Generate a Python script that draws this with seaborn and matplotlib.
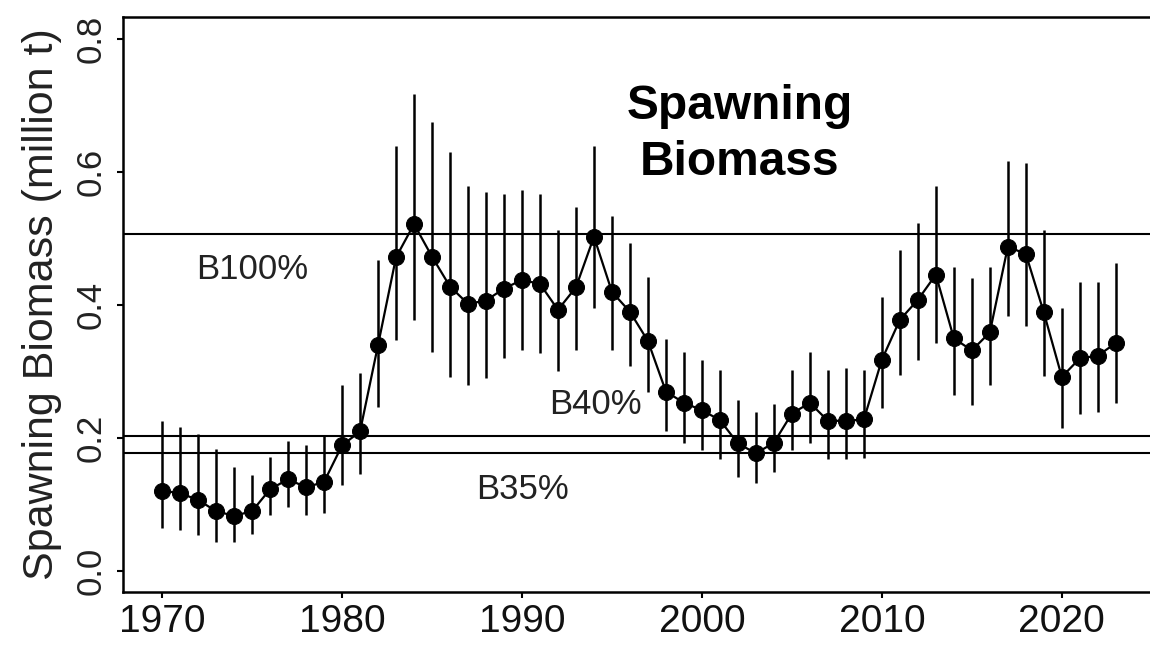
import matplotlib
matplotlib.use("Agg")
import numpy as np
import matplotlib.pyplot as plt
import seaborn as sns

# spawning biomass estimates (million t) with interval bounds
years = list(range(1970, 2024))
biomass = [
    0.121, 0.117, 0.107, 0.090, 0.083, 0.090, 0.123, 0.138, 0.126, 0.134,
    0.189, 0.210, 0.340, 0.472, 0.522, 0.473, 0.428, 0.402, 0.407, 0.425,
    0.438, 0.432, 0.393, 0.427, 0.503, 0.420, 0.390, 0.346, 0.270, 0.253,
    0.242, 0.227, 0.192, 0.177, 0.193, 0.237, 0.253, 0.226, 0.226, 0.228,
    0.318, 0.378, 0.408, 0.446, 0.350, 0.332, 0.359, 0.488, 0.477, 0.389,
    0.292, 0.320, 0.324, 0.343,
]
upper = [
    0.225, 0.217, 0.206, 0.184, 0.156, 0.144, 0.171, 0.195, 0.190, 0.203,
    0.280, 0.298, 0.468, 0.640, 0.718, 0.676, 0.631, 0.579, 0.571, 0.568,
    0.574, 0.567, 0.513, 0.548, 0.639, 0.534, 0.494, 0.442, 0.349, 0.330,
    0.318, 0.303, 0.258, 0.240, 0.251, 0.303, 0.330, 0.303, 0.305, 0.303,
    0.413, 0.483, 0.523, 0.579, 0.457, 0.441, 0.457, 0.617, 0.614, 0.513,
    0.395, 0.435, 0.435, 0.463,
]
lower = [
    0.064, 0.061, 0.054, 0.044, 0.043, 0.056, 0.084, 0.097, 0.084, 0.088,
    0.129, 0.146, 0.247, 0.348, 0.378, 0.330, 0.292, 0.280, 0.291, 0.320,
    0.333, 0.328, 0.301, 0.333, 0.395, 0.332, 0.308, 0.270, 0.210, 0.193,
    0.182, 0.168, 0.141, 0.132, 0.149, 0.182, 0.192, 0.168, 0.168, 0.170,
    0.245, 0.295, 0.318, 0.343, 0.265, 0.250, 0.280, 0.384, 0.369, 0.294,
    0.215, 0.236, 0.240, 0.253,
]

ref_names = ["B100%", "B40%", "B35%"]
ref_levels = [0.507, 0.203, 0.1775]

x_ticks = [1970, 1980, 1990, 2000, 2010, 2020]
y_ticks = [0.0, 0.2, 0.4, 0.6, 0.8]

sns.set_theme(style="ticks")
plt.rcParams["font.family"] = ["Liberation Sans", "DejaVu Sans"]

fig = plt.figure(figsize=(11.5, 6.47), dpi=100)
ax = fig.add_axes([0.107, 0.085, 0.893, 0.8888])

# interval bars
ax.vlines(years, lower, upper, color="black", linewidth=1.8, zorder=2)

# reference levels
for level in ref_levels:
    ax.axhline(level, color="black", linewidth=1.5, zorder=1)

sns.lineplot(
    x=years, y=biomass, ax=ax, color="black", linewidth=1.6,
    marker="o", markersize=11.5, markeredgecolor="black", zorder=3,
)

ax.set_xlim(1967.83, 2024.9)
ax.set_ylim(-0.0316, 0.8337)
ax.set_xticks(x_ticks)
ax.set_yticks(y_ticks)
ax.set_yticklabels([f"{v:.1f}" for v in y_ticks], rotation=90, va="center")
ax.set_xticklabels([str(v) for v in x_ticks])
ax.tick_params(axis="y", labelsize=25, length=4, width=1.5, pad=7,
               color="black", labelcolor="#222222")
ax.tick_params(axis="x", labelsize=28, length=4.5, width=1.5, pad=4,
               color="black", labelcolor="#111111")

for side in ["top", "left", "bottom"]:
    ax.spines[side].set_linewidth(1.8)
    ax.spines[side].set_color("black")
ax.spines["right"].set_visible(False)

ax.set_ylabel("Spawning Biomass (million t)", fontsize=31, color="#222222")
ax.yaxis.set_label_coords(-0.059, 0.5)

# reference labels
ax.text(1975.0, 0.453, ref_names[0], fontsize=25, ha="center", va="center", color="#222222")
ax.text(1994.1, 0.250, ref_names[1], fontsize=25, ha="center", va="center", color="#222222")
ax.text(1990.05, 0.122, ref_names[2], fontsize=25, ha="center", va="center", color="#222222")

ax.text(2002.1, 0.680, "Spawning", fontsize=34.5, fontweight="bold",
        ha="center", va="baseline", color="black")
ax.text(2002.1, 0.596, "Biomass", fontsize=34.5, fontweight="bold",
        ha="center", va="baseline", color="black")

fig.savefig("out.png", dpi=100, facecolor="white")
